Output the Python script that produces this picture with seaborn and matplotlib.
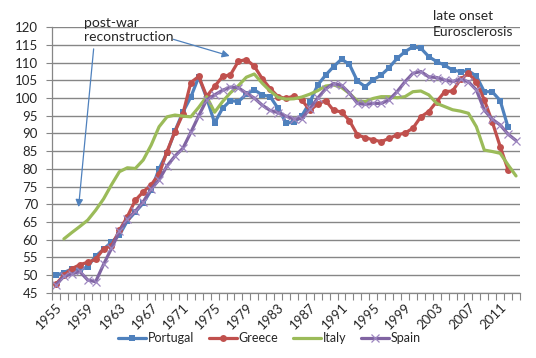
import numpy as np
import pandas as pd
import matplotlib
matplotlib.use("Agg")
import matplotlib.pyplot as plt
import seaborn as sns

# ── Data (index) ──────────────────────────────────────────────────────────────
years = list(range(1955, 2014))

portugal = [49.9, 50.7, 51.7, 51.3, 52.4, 55.3, 57.3, 59.3, 61.3, 65.3,
            67.8, 70.3, 74.0, 80.0, 84.6, 90.7, 96.0, 100.3, 106.0, 100.0,
            93.0, 97.1, 99.3, 99.0, 101.1, 102.3, 100.9, 100.4, 97.1, 93.0,
            93.1, 95.0, 98.8, 103.7, 106.5, 108.9, 111.0, 109.5, 104.8, 103.2,
            105.2, 106.5, 108.6, 111.2, 113.1, 114.5, 114.1, 111.7, 110.3, 109.3,
            107.9, 107.5, 107.7, 106.2, 101.8, 101.8, 99.3, 91.7, np.nan]

greece = [47.4, 50.0, 51.8, 52.9, 53.6, 54.4, 57.4, 58.3, 62.6, 66.5,
          71.1, 73.5, 75.5, 78.5, 84.9, 90.5, 95.5, 104.4, 106.1, 100.5,
          103.3, 106.1, 106.6, 110.4, 110.9, 109.0, 105.5, 102.7, 100.4, 99.9,
          100.6, 99.5, 96.5, 98.3, 99.3, 96.5, 96.1, 93.6, 89.6, 88.8,
          88.2, 87.7, 88.6, 89.6, 90.1, 91.5, 94.7, 96.2, 99.0, 101.8,
          102.0, 105.3, 107.0, 104.6, 99.5, 93.3, 86.3, 79.7, np.nan]

italy = [np.nan, 60.2, 62.0, 63.7, 65.5, 68.3, 71.5, 75.5, 79.2, 80.3,
         80.1, 82.5, 86.7, 91.9, 94.7, 95.2, 94.9, 94.7, 97.4, 100.4,
         96.0, 99.0, 101.5, 103.5, 105.9, 106.8, 104.2, 102.0, 100.2, 99.7,
         99.8, 100.3, 101.1, 102.1, 103.4, 103.7, 103.0, 101.3, 99.2, 99.0,
         99.9, 100.4, 100.4, 100.1, 100.4, 101.8, 102.0, 100.9, 98.5, 97.6,
         96.7, 96.3, 95.7, 91.9, 85.3, 84.9, 84.4, 81.1, 78.0]

spain = [47.2, 49.6, 50.3, 51.0, 48.6, 48.1, 53.0, 57.5, 62.3, 65.8,
         68.0, 70.7, 74.3, 76.9, 80.8, 83.6, 85.8, 90.3, 95.0, 99.5,
         100.9, 102.2, 103.1, 102.9, 101.4, 100.0, 98.0, 96.5, 95.9, 94.9,
         94.1, 94.2, 97.0, 100.0, 102.6, 104.1, 103.6, 101.4, 98.5, 98.2,
         98.5, 98.5, 99.5, 101.8, 104.6, 107.0, 107.5, 106.0, 105.8, 105.1,
         104.7, 105.3, 104.6, 102.3, 96.6, 94.0, 92.4, 89.8, 88.0]

countries = ["Portugal", "Greece", "Italy", "Spain"]
label_years = list(range(1955, 2012, 4))
y_ticks = list(range(45, 121, 5))

# ── Style ─────────────────────────────────────────────────────────────────────
COLORS  = {"Portugal": "#4F81BD", "Greece": "#C0504D",
           "Italy": "#9BBB59", "Spain": "#8064A2"}
MARKERS = {"Portugal": "s", "Greece": "o", "Italy": None, "Spain": "x"}
GRID    = "#868686"
ARROW   = "#4F81BD"

sns.set_style("white")
plt.rcParams["font.family"] = ["Lato", "DejaVu Sans"]
FS = 9.5

df = pd.DataFrame({"year": years, "Portugal": portugal, "Greece": greece,
                   "Italy": italy, "Spain": spain})
long = df.melt(id_vars="year", var_name="country", value_name="value").dropna()

fig = plt.figure(figsize=(5.36, 3.58), dpi=100)
ax = fig.add_axes([52 / 536, 1 - 292.7 / 358, 468 / 536, 265.4 / 358])

for c in countries:
    sub = long[long["country"] == c]
    kw = dict(linewidth=2.3, color=COLORS[c], label=c)
    if MARKERS[c] == "x":
        kw.update(marker="x", markersize=6, markeredgewidth=0.9,
                  markeredgecolor="#9d86c0")
    elif MARKERS[c]:
        kw.update(marker=MARKERS[c], markersize=5, markeredgewidth=0,
                  markerfacecolor=COLORS[c])
    sns.lineplot(data=sub, x="year", y="value", ax=ax, errorbar=None,
                 sort=True, **kw)

ax.set_xlim(1954.5, 2013.5)
ax.set_ylim(45, 120)
ax.set_yticks(y_ticks)
ax.set_yticklabels([str(v) for v in y_ticks], fontsize=FS)
ax.set_xticks(label_years)
ax.set_xticklabels([str(y) for y in label_years], rotation=45, ha="right",
                   rotation_mode="anchor", fontsize=FS)
ax.set_xticks(np.arange(1954.5, 2014, 1), minor=True)
ax.tick_params(axis="x", which="major", length=0, pad=6)
ax.tick_params(axis="x", which="minor", length=5, color=GRID, width=0.8,
               direction="out", bottom=True)
ax.tick_params(axis="y", length=4, color=GRID, width=0.8, pad=6, left=True)
ax.set_xlabel("")
ax.set_ylabel("")
ax.grid(axis="y", color=GRID, linewidth=1)
ax.grid(axis="x", visible=False)
for s in ["top", "right"]:
    ax.spines[s].set_visible(False)
for s in ["left", "bottom"]:
    ax.spines[s].set_color(GRID)
    ax.spines[s].set_linewidth(0.9)
ax.set_axisbelow(True)

# ── Annotations ───────────────────────────────────────────────────────────────
fig.text(84 / 536, 1 - 30 / 358, "post-war\nreconstruction", fontsize=10,
         ha="left", va="center", linespacing=1.2)
fig.text(433 / 536, 1 - 24 / 358, "late onset\nEurosclerosis", fontsize=10,
         ha="left", va="center", linespacing=1.3)

arrow = dict(arrowstyle="-|>", color=ARROW, lw=0.9, mutation_scale=11,
             shrinkA=0, shrinkB=0)
ax.annotate("", xy=(1957.85, 69.2), xytext=(1959.75, 113.9),
            arrowprops=arrow, annotation_clip=False)
ax.annotate("", xy=(1976.9, 111.9), xytext=(1969.8, 116.6),
            arrowprops=arrow, annotation_clip=False)

# ── Legend ────────────────────────────────────────────────────────────────────
if ax.legend_:
    ax.legend_.remove()
handles, labels = ax.get_legend_handles_labels()
fig.legend(handles, labels, loc="center", bbox_to_anchor=(0.503, 1 - 338 / 358),
           ncol=4, frameon=False, fontsize=9, handlelength=2.2,
           columnspacing=1.2, handletextpad=0.15)

fig.savefig("out.png", dpi=100)
